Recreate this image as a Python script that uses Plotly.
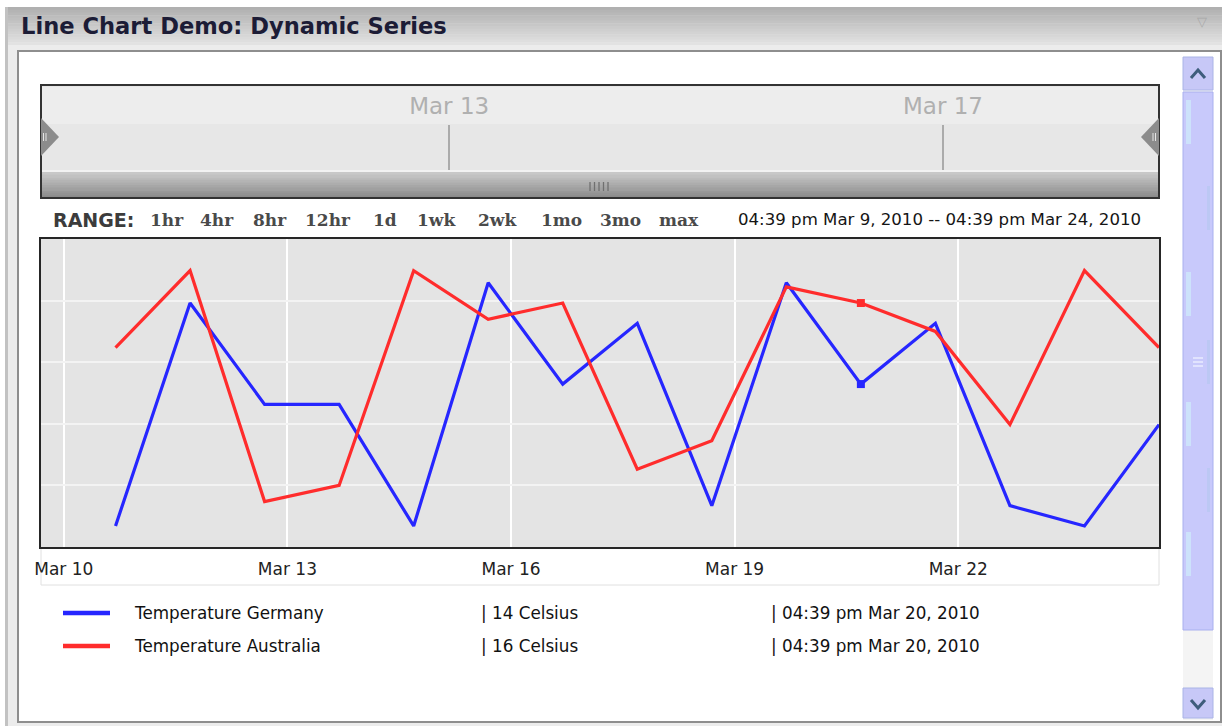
import datetime as dt
import plotly.graph_objects as go

W, H = 1227, 726

# ---------------------------------------------------------------- data
dates = [
    "2010-03-10 16:39", "2010-03-11 16:39", "2010-03-12 16:39", "2010-03-13 16:39",
    "2010-03-14 16:39", "2010-03-15 16:39", "2010-03-16 16:39", "2010-03-17 16:39",
    "2010-03-18 16:39", "2010-03-19 16:39", "2010-03-20 16:39", "2010-03-21 16:39",
    "2010-03-22 16:39", "2010-03-23 16:39", "2010-03-24 16:39",
]
germany = [10.5, 16.0, 13.5, 13.5, 10.5, 16.5, 14.0, 15.5, 11.0, 16.5, 14.0, 15.5, 11.0, 10.5, 13.0]
australia = [14.9, 16.8, 11.1, 11.5, 16.8, 15.6, 16.0, 11.9, 12.6, 16.4, 16.0, 15.3, 13.0, 16.8, 14.9]
series_names = ["Temperature Germany", "Temperature Australia"]
unit = "Celsius"

selected_date = "2010-03-20 16:39"
view_start = "2010-03-09 16:39"
view_end = "2010-03-24 16:39"
nav_start = "2010-03-09 16:39"
nav_end = "2010-03-18 18:00"
y_min, y_max = 9.98, 17.58

range_buttons = ["1hr", "4hr", "8hr", "12hr", "1d", "1wk", "2wk", "1mo", "3mo", "max"]

# ---------------------------------------------------------------- styling
BLUE = "rgb(38,38,255)"
RED = "rgb(255,44,44)"
DAY_MS = 86400000


def px(x):
    return x / W


def py(y):
    return 1 - y / H


def rect(x0, y0, x1, y1, fill, line=None, lw=0, layer="below"):
    return dict(type="rect", xref="paper", yref="paper",
                x0=px(x0), x1=px(x1), y0=py(y1), y1=py(y0),
                fillcolor=fill, line=dict(width=lw, color=line or fill), layer=layer)


def seg(x0, y0, x1, y1, color, lw, layer="above"):
    return dict(type="line", xref="paper", yref="paper",
                x0=px(x0), x1=px(x1), y0=py(y0), y1=py(y1),
                line=dict(color=color, width=lw), layer=layer)


def poly(points, fill, line=None, lw=0, closed=True, layer="above"):
    d = "M " + " L ".join(f"{px(x):.5f},{py(y):.5f}" for x, y in points)
    if closed:
        d += " Z"
    return dict(type="path", xref="paper", yref="paper", path=d,
                fillcolor=fill if closed else "rgba(0,0,0,0)",
                line=dict(color=line or fill, width=lw), layer=layer)


def gradient(x0, y0, x1, y1, c0, c1, steps=12):
    out = []
    h = (y1 - y0) / steps
    for i in range(steps):
        t = i / (steps - 1)
        c = tuple(round(a + (b - a) * t) for a, b in zip(c0, c1))
        out.append(rect(x0, y0 + i * h, x1, y0 + (i + 1) * h + 0.5, f"rgb{c}"))
    return out


def fmt_stamp(s):
    d = dt.datetime.strptime(s, "%Y-%m-%d %H:%M")
    return f"{d.strftime('%I:%M %p').lower()} {d:%b} {d.day}, {d.year}"


shapes = []
# window chrome
shapes += gradient(5, 7, 1222, 45, (176, 176, 176), (226, 226, 226), steps=14)
shapes.append(rect(5, 45, 1222, 726, "#ececec"))
shapes.append(rect(5, 7, 8, 726, "#c2c2c2"))
shapes.append(rect(18, 51, 1221, 722, "#ffffff", line="#8e8e8e", lw=2))

# navigator
shapes.append(rect(41, 85, 1159, 170, "#e7e7e7"))
shapes.append(rect(41, 87, 1159, 124, "#ededed"))
shapes.append(rect(41, 170, 1159, 172, "#f2f2f2"))
shapes += gradient(41, 172, 1159, 198, (200, 200, 200), (140, 140, 140), steps=10)
shapes.append(rect(41, 85, 1159, 198, "rgba(0,0,0,0)", line="#333333", lw=2))

# main plot background and the label strip under it
shapes.append(rect(41, 547, 1159, 585, "#ffffff", line="#e0e0e0", lw=1))
shapes.append(rect(41, 239, 1159, 547, "#e4e4e4"))

# navigator handles and grip
shapes.append(poly([(41, 118), (59, 137), (41, 156)], "#8c8c8c"))
shapes.append(poly([(1159, 118), (1141, 137), (1159, 156)], "#8c8c8c"))
for xx in (43.5, 46):
    shapes.append(seg(xx, 133, xx, 141, "#e6e6e6", 1))
for xx in (1153, 1155.5):
    shapes.append(seg(xx, 133, xx, 141, "#e6e6e6", 1))
for i in range(5):
    xx = 590 + i * 4.5
    shapes.append(seg(xx, 182, xx, 191, "#707070", 1.3))

# scrollbar
shapes.append(rect(1183, 90, 1213, 720, "#f4f4f4"))
shapes.append(rect(1183, 57, 1213, 90, "#c7c8f7", line="#aab4e6", lw=1))
shapes.append(rect(1183, 92, 1213, 630, "#c8c9fb", line="#a9b0ee", lw=1))
for y0 in (100, 272, 402, 532):
    shapes.append(rect(1186, y0, 1191, y0 + 44, "#cde2fb"))
for y0 in (186, 340, 468):
    shapes.append(rect(1207, y0, 1210, y0 + 44, "#bcc8f4"))
shapes.append(rect(1183, 688, 1213, 718, "#c7c8f7", line="#aab4e6", lw=1))
shapes.append(poly([(1191, 78), (1198, 70), (1205, 78)], "#3e5d7c", lw=3, closed=False))
shapes.append(poly([(1191, 700), (1198, 708), (1205, 700)], "#3e5d7c", lw=3, closed=False))
for yy in (358, 362, 366):
    shapes.append(seg(1193, yy, 1203, yy, "#eef2ff", 1.3))

# legend swatches
LEG_Y = [613, 646]
for yy, col in zip(LEG_Y, [BLUE, RED]):
    shapes.append(seg(63, yy, 110, yy, col, 4.5))

# ---------------------------------------------------------------- traces
sel = dates.index(selected_date)
fig = go.Figure()
fig.add_trace(go.Scatter(x=dates, y=germany, mode="lines", name=series_names[0],
                         line=dict(color=BLUE, width=3.2)))
fig.add_trace(go.Scatter(x=dates, y=australia, mode="lines", name=series_names[1],
                         line=dict(color=RED, width=3.2)))
fig.add_trace(go.Scatter(x=[dates[sel]], y=[germany[sel]], mode="markers",
                         marker=dict(symbol="square", size=8, color=BLUE)))
fig.add_trace(go.Scatter(x=[dates[sel]], y=[australia[sel]], mode="markers",
                         marker=dict(symbol="square", size=8, color=RED)))
# the navigator strip carries only its time axis
fig.add_trace(go.Scatter(x=[], y=[], xaxis="x2", yaxis="y2", mode="lines",
                         hoverinfo="skip"))

# ---------------------------------------------------------------- annotations
ann = []


def text(x, y, s, size=16, color="#111111", family="DejaVu Sans", anchor="left", bold=False):
    if bold:
        s = f"<b>{s}</b>"
    ann.append(dict(x=px(x), y=py(y), xref="paper", yref="paper", text=s, showarrow=False,
                    xanchor=anchor, yanchor="middle",
                    font=dict(family=family, size=size, color=color)))


text(19, 26, "Line Chart Demo: Dynamic Series", size=22.6, color="#1c1c36", bold=True)
text(1202, 22, "▽", size=13, color="#a8a8a8", anchor="center")

text(51, 220, "RANGE:", size=19, color="#3c3c3c", bold=True)
button_x = [167, 217, 270, 328, 385, 437, 497, 561, 621, 679]
for lbl, bx in zip(range_buttons, button_x):
    text(bx, 220, lbl, size=17, color="#4a4a4a", family="DejaVu Serif", anchor="center", bold=True)
text(1143, 220, f"{fmt_stamp(view_start)} -- {fmt_stamp(view_end)}",
     size=16.6, color="#151515", anchor="right")

for yy, name, vals in zip(LEG_Y, series_names, [germany, australia]):
    text(132, yy, name, size=16.8)
    text(479, yy, f"| {vals[sel]:.0f} {unit}", size=16.8)
    text(769, yy, f"| {fmt_stamp(selected_date)}", size=16.8)

# ---------------------------------------------------------------- layout
fig.update_layout(
    width=W, height=H,
    autosize=False,
    margin=dict(l=0, r=0, t=0, b=0, pad=0, autoexpand=False),
    paper_bgcolor="#ffffff",
    plot_bgcolor="rgba(0,0,0,0)",
    showlegend=False,
    font=dict(family="DejaVu Sans"),
    shapes=shapes,
    annotations=ann,
    xaxis=dict(
        domain=[px(41), px(1159)], anchor="y", type="date",
        range=[view_start, view_end],
        tick0="2010-03-10", dtick=3 * DAY_MS, tickformat="%b %d",
        showgrid=True, gridcolor="#ffffff", gridwidth=2,
        showline=True, mirror=True, linecolor="#262626", linewidth=2,
        ticks="outside", ticklen=6, tickcolor="rgba(0,0,0,0)",
        tickfont=dict(family="DejaVu Sans", size=17, color="#222222"),
        zeroline=False, fixedrange=True,
    ),
    yaxis=dict(
        domain=[py(547), py(239)], anchor="x",
        range=[y_min, y_max], tick0=y_min, dtick=(y_max - y_min) / 5,
        showticklabels=False, showgrid=True, gridcolor="#f3f3f3", gridwidth=2,
        showline=True, mirror=True, linecolor="#262626", linewidth=2,
        zeroline=False, fixedrange=True,
    ),
    xaxis2=dict(
        domain=[px(41), px(1159)], anchor="y2", type="date", side="top",
        range=[nav_start, nav_end],
        tick0="2010-03-13", dtick=4 * DAY_MS, tickformat="%b %d",
        showgrid=True, gridcolor="#ababab", gridwidth=1.5,
        showline=False, ticks="outside", ticklen=1, tickcolor="rgba(0,0,0,0)",
        tickfont=dict(family="DejaVu Sans", size=23, color="#b0b0b0"),
        zeroline=False, fixedrange=True,
    ),
    yaxis2=dict(
        domain=[py(170), py(125)], anchor="x2", range=[0, 1],
        showticklabels=False, showgrid=False, zeroline=False, showline=False,
        fixedrange=True,
    ),
)

fig.write_html("out.html", config={"displayModeBar": False})
